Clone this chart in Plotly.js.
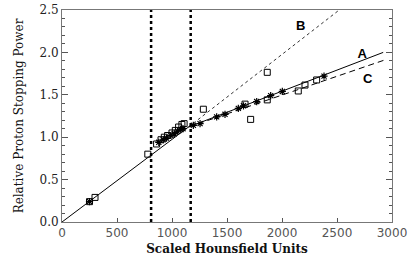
<!DOCTYPE html>
<html><head><meta charset="utf-8">
<script src="https://cdn.plot.ly/plotly-3.0.1.min.js"></script>
<style>html,body{margin:0;padding:0;background:#fff}#c{width:411px;height:257px}</style>
</head><body><div id="c"></div>
<script>
// Data
const squareHU  = [250, 300, 780, 860, 900, 930, 960, 1000, 1030, 1060, 1090, 1110, 1285, 1664, 1715, 1866, 1866, 2148, 2209, 2315];
const squareRSP = [0.24, 0.29, 0.80, 0.92, 0.97, 1.00, 1.02, 1.05, 1.08, 1.12, 1.15, 1.16, 1.33, 1.39, 1.21, 1.765, 1.44, 1.545, 1.615, 1.675];
const starHU  = [250, 880, 920, 950, 990, 1020, 1050, 1080, 1100, 1194, 1255, 1406, 1482, 1603, 1650, 1770, 1897, 2003, 2382];
const starRSP = [0.24, 0.94, 0.97, 0.99, 1.02, 1.04, 1.07, 1.09, 1.10, 1.14, 1.16, 1.24, 1.27, 1.34, 1.37, 1.42, 1.49, 1.54, 1.72];
const lineA_HU = [0, 1150, 2920];
const lineA_RSP = [0, 1.12, 2.0];
const lineB_HU = [1150, 2520];
const lineB_RSP = [1.12, 2.5];
const lineC_HU = [1150, 2955];
const lineC_RSP = [1.12, 1.92];
const boundHU = [810, 1170];
const curveLabels = ['A', 'B', 'C'];
const labelHU = [2730, 2170, 2780];
const labelRSP = [1.97, 2.3, 1.68];
const xTicks = [0, 500, 1000, 1500, 2000, 2500, 3000];
const yTicks = [0.0, 0.5, 1.0, 1.5, 2.0, 2.5];

const traces = [
  {x: lineA_HU, y: lineA_RSP, mode: 'lines', line: {color: '#000', width: 1}},
  {x: lineB_HU, y: lineB_RSP, mode: 'lines', line: {color: '#333', width: 1, dash: 'dot'}},
  {x: lineC_HU, y: lineC_RSP, mode: 'lines', line: {color: '#000', width: 1, dash: '6px,4px'}},
  {x: squareHU, y: squareRSP, mode: 'markers', marker: {symbol: 'square-open', size: 6, color: '#000', line: {width: 1}}},
  {x: starHU, y: starRSP, mode: 'markers', marker: {symbol: 'asterisk-open', size: 6, color: '#000', line: {width: 1.2, color: '#000'}}},
  {x: labelHU, y: labelRSP, mode: 'text', text: curveLabels, textfont: {family: 'Liberation Sans, Arial, sans-serif', size: 13, color: '#000', weight: 'bold'}}
];

const shapes = boundHU.map(h => ({type: 'line', xref: 'x', yref: 'paper', x0: h, x1: h, y0: 0, y1: 1, line: {color: '#000', width: 2.5, dash: 'dot'}}));

const layout = {
  width: 411, height: 257,
  margin: {l: 62, r: 19, t: 10, b: 35},
  paper_bgcolor: '#fff', plot_bgcolor: '#fff',
  showlegend: false,
  shapes: shapes,
  xaxis: {
    range: [0, 3000], tickvals: xTicks, ticktext: xTicks.map(String),
    showgrid: false, zeroline: false, showline: true, mirror: true, linecolor: '#777', linewidth: 1,
    ticks: 'inside', ticklen: 4, tickcolor: '#555',
    tickfont: {family: 'DejaVu Sans, sans-serif', size: 12, color: '#555'},
    title: {text: 'Scaled Hounsfield Units', standoff: 5, font: {family: 'DejaVu Serif, serif', size: 12, color: '#111', weight: 'bold'}}
  },
  yaxis: {
    range: [0, 2.5], tickvals: yTicks, ticktext: yTicks.map(v => v.toFixed(1)),
    showgrid: false, zeroline: false, showline: true, mirror: 'ticks', linecolor: '#777', linewidth: 1,
    ticks: 'inside', ticklen: 6, tickcolor: '#555',
    minor: {dtick: 0.1, ticks: 'inside', ticklen: 3, tickcolor: '#555', showgrid: false},
    tickfont: {family: 'DejaVu Serif, serif', size: 12, color: '#222'},
    title: {text: 'Relative Proton Stopping Power', standoff: 13, font: {family: 'DejaVu Serif, serif', size: 12, color: '#111'}}
  }
};
Plotly.newPlot('c', traces, layout, {staticPlot: true, displayModeBar: false});
</script></body></html>
